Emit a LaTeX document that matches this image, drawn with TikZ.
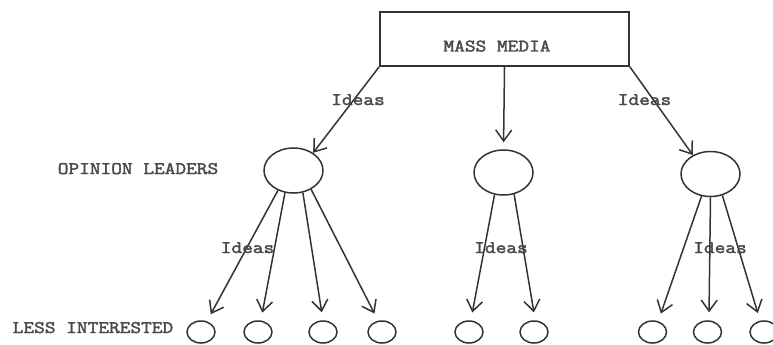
\documentclass[tikz,border=0pt]{standalone}
\usepackage{fontspec}
\newfontfamily\tw[FakeStretch=1.18,FakeBold=2.4]{Latin Modern Mono}
\usetikzlibrary{arrows.meta,shapes.geometric}
\definecolor{ink}{HTML}{333333}
\definecolor{type}{HTML}{4A4A4A}
\begin{document}
\begin{tikzpicture}[x=1pt,y=-1pt,
  lbl/.style={font=\tw\fontsize{17.6}{17.6}\selectfont, text=type, inner sep=0pt, anchor=base},
  leader/.style={ellipse, draw=ink, line width=1.5pt, minimum width=59pt, minimum height=45pt, inner sep=0pt},
  follower/.style={ellipse, draw=ink, line width=1.5pt, minimum width=28pt, minimum height=22pt, inner sep=0pt},
  arr/.style={draw=ink, line width=1.5pt, -{Straight Barb[length=11pt,width=16pt]}}]
\useasboundingbox (0,0) rectangle (773,345);

% mass media box
\node[draw=ink, line width=1.8pt, minimum width=249pt, minimum height=54pt, inner sep=0pt] (mm) at (504.5,39) {};
\node[lbl] (mmtext) at (497,51.5) {MASS MEDIA};

% opinion leaders
\node[leader] (ol1) at (293.5,170.5) {};
\node[leader] (ol2) at (503.5,172.5) {};
\node[leader] (ol3) at (710.5,174) {};
\node[lbl] (oltext) at (138,174) {OPINION LEADERS};

% less interested
\node[follower] (b1) at (201,332) {};
\node[follower] (b2) at (258,332) {};
\node[follower] (b3) at (323,332) {};
\node[follower] (b4) at (382,332) {};
\node[follower] (b5) at (469,332) {};
\node[follower] (b6) at (534,332) {};
\node[follower] (b7) at (652.5,332) {};
\node[follower] (b8) at (707.5,332) {};
\node[follower] (b9) at (764,332) {};
\node[lbl] (litext) at (93,333) {LESS INTERESTED};

% media to leaders
\draw[arr] (mm.south west) -- (ol1.42);
\draw[arr, shorten >=7pt] (mm.south) -- (ol2.north);
\draw[arr] (mm.south east) -- (ol3.133);

% leaders to followers
\draw[arr, shorten >=8pt] (ol1.232) -- (b1.61);
\draw[arr, shorten >=8pt] (ol1.249) -- (b2.76);
\draw[arr, shorten >=8pt] (ol1.293) -- (b3.90);
\draw[arr, shorten >=8pt] (ol1.313) -- (b4.109);
\draw[arr, shorten >=8pt] (ol2.248) -- (b5.81);
\draw[arr, shorten >=8pt] (ol2.296) -- (b6.84);
\draw[arr, shorten >=8pt] (ol3.248) -- (b7.62);
\draw[arr, shorten >=8pt] (ol3.270) -- (b8.83);
\draw[arr, shorten >=8pt] (ol3.299) -- (b9.109);

% labels on the flows
\node[lbl] (i1) at (358,105) {Ideas};
\node[lbl] (i2) at (644.5,105) {Ideas};
\node[lbl] (i3) at (247.5,253) {Ideas};
\node[lbl] (i4) at (501,253) {Ideas};
\node[lbl] (i5) at (720,253) {Ideas};
\end{tikzpicture}
\end{document}
